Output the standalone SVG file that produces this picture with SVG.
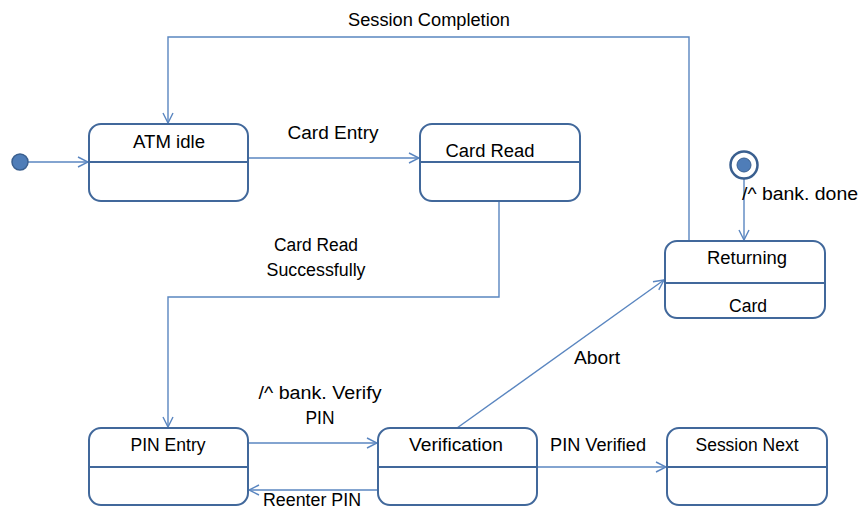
<svg xmlns="http://www.w3.org/2000/svg" width="859" height="511" viewBox="0 0 859 511">
<style>
.st{fill:#fff;stroke:#41689B;stroke-width:2}
.dv{stroke:#41689B;stroke-width:2}
.cn{fill:none;stroke:#5A86C0;stroke-width:1.4}
text{font-family:"Liberation Sans",Arial,sans-serif;font-size:18px;fill:#000;text-anchor:middle}
</style>
<defs>
<marker id="ah" viewBox="0 0 12 12" refX="11" refY="6" markerWidth="12" markerHeight="12" markerUnits="userSpaceOnUse" orient="auto">
<path d="M1,1 L11,6 L1,11" fill="none" stroke="#5A86C0" stroke-width="1.4"/>
</marker>
</defs>
<rect width="859" height="511" fill="#fff"/>
<g id="connectors">
<line class="cn" x1="28" y1="162" x2="88" y2="162" marker-end="url(#ah)"/>
<polyline class="cn" points="689,241 689,37 168,37 168,123" marker-end="url(#ah)"/>
<line class="cn" x1="248" y1="158" x2="419" y2="158" marker-end="url(#ah)"/>
<polyline class="cn" points="499,201 499,297 168,297 168,427" marker-end="url(#ah)"/>
<line class="cn" x1="744" y1="179" x2="744" y2="240" marker-end="url(#ah)"/>
<line class="cn" x1="248" y1="443" x2="377" y2="443" marker-end="url(#ah)"/>
<line class="cn" x1="378" y1="490" x2="249" y2="490" marker-end="url(#ah)"/>
<line class="cn" x1="457" y1="428" x2="664" y2="280" marker-end="url(#ah)"/>
<line class="cn" x1="537" y1="467" x2="666" y2="467" marker-end="url(#ah)"/>
<text x="429" y="26" textLength="162" lengthAdjust="spacingAndGlyphs">Session Completion</text>
<text x="333" y="139" textLength="91" lengthAdjust="spacingAndGlyphs">Card Entry</text>
<text x="316" y="251" textLength="84" lengthAdjust="spacingAndGlyphs">Card Read</text>
<text x="316" y="276" textLength="99" lengthAdjust="spacingAndGlyphs">Successfully</text>
<text x="320" y="399" textLength="123" lengthAdjust="spacingAndGlyphs">/^ bank. Verify</text>
<text x="320" y="424" textLength="29" lengthAdjust="spacingAndGlyphs">PIN</text>
<text x="312" y="506" font-size="17" textLength="98" lengthAdjust="spacingAndGlyphs">Reenter PIN</text>
<text x="597" y="364" textLength="46" lengthAdjust="spacingAndGlyphs">Abort</text>
<text x="598" y="451" textLength="96" lengthAdjust="spacingAndGlyphs">PIN Verified</text>
<text x="800" y="200" textLength="116" lengthAdjust="spacingAndGlyphs">/^ bank. done</text>
</g>
<g id="initial">
<circle cx="20" cy="162" r="8" fill="#4F7DB8" stroke="#3A5F8F" stroke-width="1.5"/>
</g>
<g id="final">
<circle cx="744" cy="165" r="13.5" fill="#fff" stroke="#3A5F8F" stroke-width="2.5"/>
<circle cx="744" cy="165" r="7" fill="#4F7DB8" stroke="#3A5F8F" stroke-width="1"/>
</g>
<g id="atm-idle">
<rect class="st" x="89" y="124" width="159" height="77" rx="12"/>
<line class="dv" x1="89" y1="162" x2="248" y2="162"/>
<text x="169" y="148" textLength="72" lengthAdjust="spacingAndGlyphs">ATM idle</text>
</g>
<g id="card-read">
<rect class="st" x="420" y="124" width="160" height="77" rx="12"/>
<line class="dv" x1="420" y1="162" x2="580" y2="162"/>
<text x="490" y="157" textLength="89" lengthAdjust="spacingAndGlyphs">Card Read</text>
</g>
<g id="returning">
<rect class="st" x="665" y="241" width="160" height="77" rx="12"/>
<line class="dv" x1="665" y1="283" x2="825" y2="283"/>
<text x="747" y="264" textLength="80" lengthAdjust="spacingAndGlyphs">Returning</text>
<text x="748" y="312" textLength="38" lengthAdjust="spacingAndGlyphs">Card</text>
</g>
<g id="pin-entry">
<rect class="st" x="89" y="428" width="159" height="77" rx="12"/>
<line class="dv" x1="89" y1="467" x2="248" y2="467"/>
<text x="168" y="451" textLength="75" lengthAdjust="spacingAndGlyphs">PIN Entry</text>
</g>
<g id="verification">
<rect class="st" x="378" y="428" width="159" height="77" rx="12"/>
<line class="dv" x1="378" y1="467" x2="537" y2="467"/>
<text x="456" y="451" textLength="94" lengthAdjust="spacingAndGlyphs">Verification</text>
</g>
<g id="session-next">
<rect class="st" x="667" y="428" width="160" height="77" rx="12"/>
<line class="dv" x1="667" y1="467" x2="827" y2="467"/>
<text x="747" y="451" textLength="103" lengthAdjust="spacingAndGlyphs">Session Next</text>
</g>
</svg>
